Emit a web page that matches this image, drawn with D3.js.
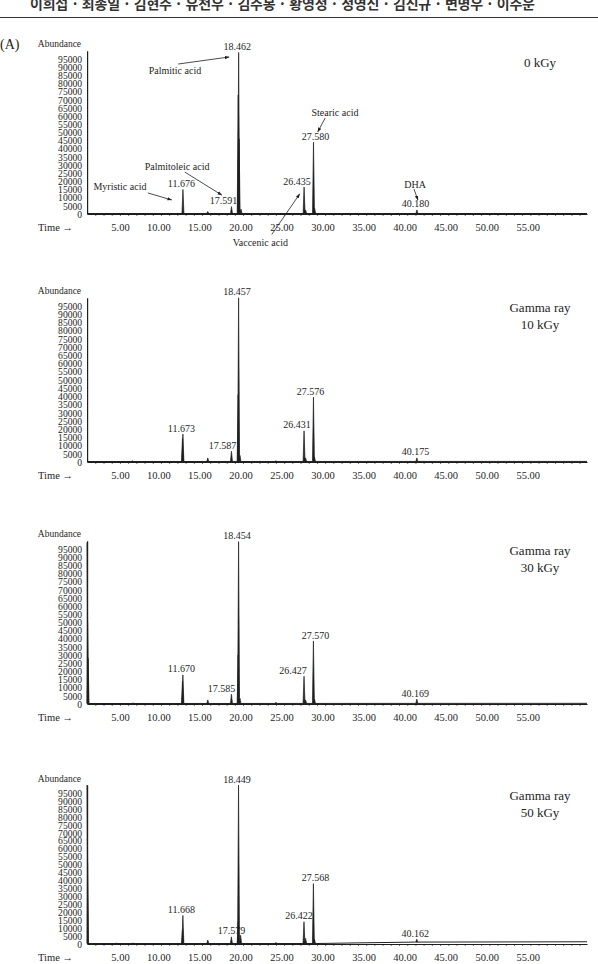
<!DOCTYPE html>
<html><head><meta charset="utf-8">
<script src="https://cdn.jsdelivr.net/npm/d3@7"></script>
<style>
body{margin:0;background:#fff;}
svg{display:block;}
text{font-family:"Liberation Serif","DejaVu Serif","Times New Roman",serif;fill:#1e1e1e;}
</style></head><body>
<svg id="c" width="598" height="964"></svg>
<script>
// ---------------- DATA ----------------
const authors = "이희섭 · 최종일 · 김현주 · 유천우 · 김주봉 · 황영정 · 정영신 · 김신규 · 변명우 · 이주운";
const yTicks = [0,5000,10000,15000,20000,25000,30000,35000,40000,45000,50000,55000,60000,65000,70000,75000,80000,85000,90000,95000];
const xTicks = [5,10,15,20,25,30,35,40,45,50,55];
const panelTitles = [["0 kGy"],["Gamma ray","10 kGy"],["Gamma ray","30 kGy"],["Gamma ray","50 kGy"]];

// peaks: [retention time (min), abundance]
const peaks0 = [[11.676,15000],[14.7,1500],[17.591,4500],[18.41,73000],[18.462,99000],[18.52,46000],[18.75,3000],
                [26.435,16500],[26.62,2500],[27.58,44000],[27.72,3500],[40.18,2500]];
const peaks10 = [[5.5,800],[11.62,14500],[11.673,17000],[14.7,2500],[17.587,6500],[18.40,41000],[18.457,100000],[18.62,4000],
                 [23.0,700],[26.431,19000],[26.62,2500],[27.576,39500],[27.70,3000],[40.175,2500]];
const peaks30 = [[0.0,99000],[0.06,50000],[0.12,28000],[5.6,600],[11.62,14000],[11.67,17800],[14.7,2500],[17.585,6000],
                 [18.40,30000],[18.454,99500],[18.62,3500],[23.0,1000],[26.427,17000],[26.62,2500],[27.57,38500],[27.70,3000],[40.169,3000]];
const peaks50 = [[0.0,100000],[0.06,51000],[3.6,500],[5.6,600],[11.62,9000],[11.668,18000],[14.7,2500],[17.579,4500],
                 [18.40,14000],[18.449,100000],[18.70,5500],[23.0,1000],[26.422,14000],[26.62,3500],[27.568,38000],[27.70,3000],[40.162,3000]];

const peakLabels0 = ["11.676","17.591","18.462","26.435","27.580","40.180"];
const peakLabels10 = ["11.673","17.587","18.457","26.431","27.576","40.175"];
const peakLabels30 = ["11.670","17.585","18.454","26.427","27.570","40.169"];
const peakLabels50 = ["11.668","17.579","18.449","26.422","27.568","40.162"];

// baseline: [time, abundance]
const baseline0 = [[0,300],[60.9,300]];
const baseline10 = [[0,300],[60.9,350]];
const baseline30 = [[0,300],[60.9,400]];
const baseline50 = [[0,300],[28,300],[33,700],[40,1200],[60.9,1400]];

const compoundNames = ["Palmitic acid","Palmitoleic acid","Myristic acid","Stearic acid","DHA","Vaccenic acid"];

// ---------------- LAYOUT ----------------
const panels = [
  {peaks:peaks0, labels:peakLabels0, base:baseline0, title:panelTitles[0], y0:214, y1:50.8, titleDy:16.5,
   nudge:{"17.591":-8,"26.435":-7,"27.580":2}},
  {peaks:peaks10, labels:peakLabels10, base:baseline10, title:panelTitles[1], y0:462, y1:297.8, titleDy:14.5,
   nudge:{"17.587":-9,"26.431":-7,"27.576":-3}},
  {peaks:peaks30, labels:peakLabels30, base:baseline30, title:panelTitles[2], y0:704, y1:540.8, titleDy:14.5,
   nudge:{"17.585":-10,"26.427":-11,"27.570":2}},
  {peaks:peaks50, labels:peakLabels50, base:baseline50, title:panelTitles[3], y0:944, y1:785.1, titleDy:14.5,
   nudge:{"17.579":0,"26.422":-5,"27.568":2}}
];
// annotations for first panel, in data coordinates (time, abundance)
const annots = [
  {name:compoundNames[0], t:10.7, v:85500, from:[11.1,91900], to:[17.3,96200]},
  {name:compoundNames[1], t:10.96, v:27200, from:[11.9,25700], to:[16.4,11600]},
  {name:compoundNames[2], t:4.0, v:14400, from:[7.4,12900], to:[10.3,8600]},
  {name:compoundNames[3], t:30.2, v:60300, from:[29.0,58800], to:[28.1,50300]},
  {name:compoundNames[4], t:39.95, v:16200, from:[39.82,15300], to:[40.3,8600]},
  {name:compoundNames[5], t:21.1, v:-19500, from:[22.5,-12500], to:[25.9,12300]}
];

const ink = "#1e1e1e";
const svg = d3.select("#c");

// header
svg.append("text").attr("x",30).attr("y",8.5)
  .attr("textLength",505).attr("lengthAdjust","spacing")
  .style("font-family","'Noto Sans CJK KR','Noto Sans',sans-serif")
  .style("font-weight","bold").style("font-size","14px").style("fill","#333")
  .text(authors);
svg.append("line").attr("x1",0).attr("x2",598).attr("y1",17.5).attr("y2",17.5)
  .attr("stroke","#333").attr("stroke-width",1);
svg.append("text").attr("x",0).attr("y",49).style("font-size","14px").text("(A)");

// arrow marker
svg.append("defs").append("marker").attr("id","ah")
  .attr("viewBox","0 0 10 10").attr("refX",9).attr("refY",5)
  .attr("markerWidth",6).attr("markerHeight",6).attr("orient","auto-start-reverse")
  .append("path").attr("d","M0,1.5L10,5L0,8.5Z").attr("fill",ink);

const x = d3.scaleLinear().domain([0,60.9]).range([87.1,587]);
const W = 0.12; // half width of a drawn spike (min)

panels.forEach((p,pi)=>{
  const y = d3.scaleLinear().domain([0,100000]).range([p.y0,p.y1]);
  const g = svg.append("g");

  // y axis
  const ya = g.append("g").attr("transform",`translate(${x(0)},0)`)
    .call(d3.axisLeft(y).tickValues(yTicks).tickSize(0).tickSizeOuter(0).tickPadding(5).tickFormat(d=>String(d)));
  ya.attr("font-family",null).attr("font-size",null);
  ya.select(".domain").attr("stroke",ink).attr("stroke-width",1.2);
  ya.selectAll("text").style("font-size","9.6px").attr("dy","0.34em");

  g.append("text").attr("x",x(0)-6).attr("y",p.y1-3.5).attr("text-anchor","end")
    .style("font-size","9.5px").text("Abundance");

  // x axis: minor ticks + domain
  const xa = g.append("g").attr("transform",`translate(0,${p.y0})`)
    .call(d3.axisBottom(x).tickValues(d3.range(1,61,1)).tickSize(1.8).tickSizeOuter(0).tickFormat(""));
  xa.select(".domain").attr("stroke",ink).attr("stroke-width",1.1);
  xa.selectAll(".tick line").attr("stroke",ink).attr("stroke-width",0.8);

  // x labels (right-aligned to their tick)
  const xl = g.append("g").attr("transform",`translate(0,${p.y0})`)
    .call(d3.axisBottom(x).tickValues(xTicks).tickSize(0).tickFormat(d3.format(".2f")));
  xl.attr("font-family",null).attr("font-size",null);
  xl.select(".domain").remove();
  xl.selectAll("text").attr("y",17).attr("dy",0).attr("dx",1).attr("text-anchor","end").style("font-size","10.5px");

  g.append("text").attr("x",38).attr("y",p.y0+17).style("font-size","10.5px").text("Time \u2192");

  // baseline trace
  g.append("path").datum(p.base)
    .attr("d",d3.line().x(d=>x(d[0])).y(d=>y(d[1])))
    .attr("fill","none").attr("stroke",ink).attr("stroke-width",1);

  // peaks
  const bAt = t => {
    const b=p.base; for(let k=0;k<b.length-1;k++){ if(t>=b[k][0]&&t<=b[k+1][0]){
      const f=(t-b[k][0])/(b[k+1][0]-b[k][0]); return b[k][1]+f*(b[k+1][1]-b[k][1]);}}
    return b[b.length-1][1]; };
  const spike = d3.line().x(d=>x(d[0])).y(d=>y(d[1]));
  g.selectAll("path.pk").data(p.peaks).join("path").attr("class","pk")
    .attr("d",d=>spike([[Math.max(0,d[0]-W),bAt(d[0])],[d[0],d[1]],[d[0]+W,bAt(d[0])]]))
    .attr("fill",ink).attr("stroke",ink).attr("stroke-width",0.7).attr("stroke-linejoin","miter");

  // peak labels
  p.labels.forEach(lb=>{
    const rt = +lb;
    const pk = p.peaks.find(d=>Math.abs(d[0]-rt)<0.002);
    const dx = p.nudge[lb]!==undefined ? p.nudge[lb] : -1.5;
    g.append("text").attr("x",x(rt)+dx).attr("y",y(pk[1])-2.5)
      .attr("text-anchor","middle").style("font-size","10px").text(lb);
  });

  // title
  p.title.forEach((t,k)=>{
    g.append("text").attr("x",540).attr("y",p.y1+p.titleDy+k*17)
      .attr("text-anchor","middle").style("font-size","13px").text(t);
  });

  // annotations (first panel only)
  if(pi===0){
    annots.forEach(a=>{
      g.append("text").attr("x",x(a.t)).attr("y",y(a.v)).attr("text-anchor","middle")
        .style("font-size","10px").text(a.name);
      g.append("line").attr("x1",x(a.from[0])).attr("y1",y(a.from[1]))
        .attr("x2",x(a.to[0])).attr("y2",y(a.to[1]))
        .attr("stroke",ink).attr("stroke-width",0.8).attr("marker-end","url(#ah)");
    });
  }
});
</script>
</body></html>
